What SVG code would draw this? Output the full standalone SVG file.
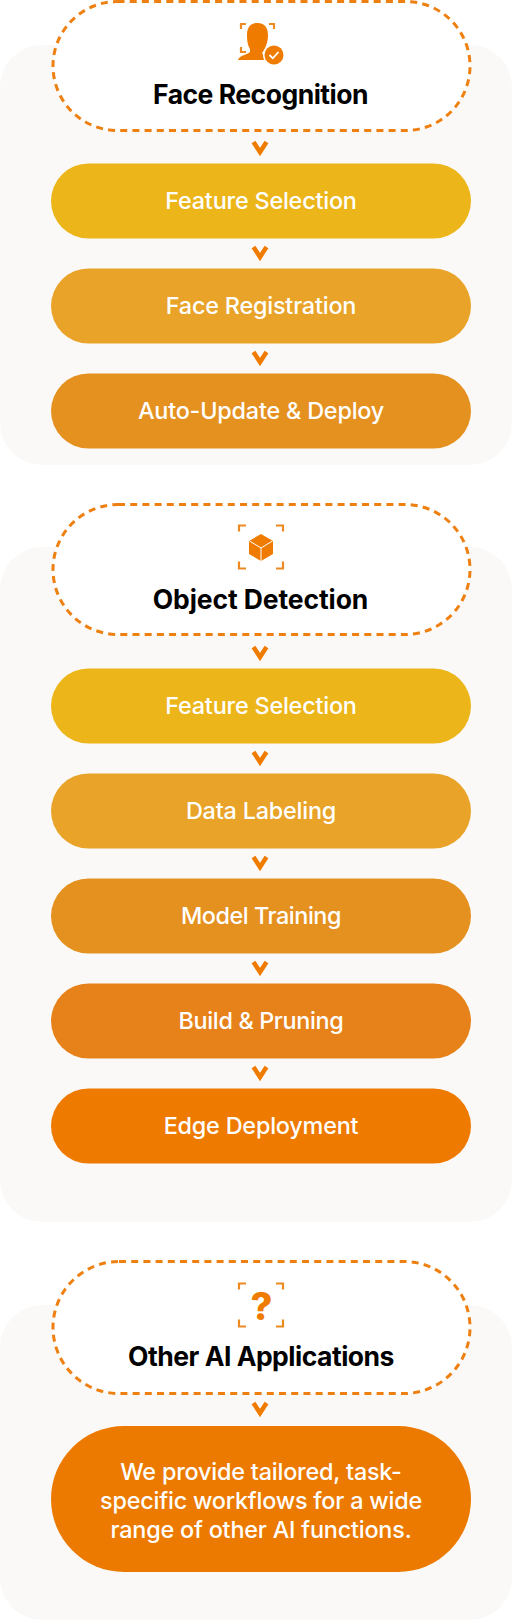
<svg xmlns="http://www.w3.org/2000/svg" width="512" height="1620" viewBox="0 0 512 1620">
<style>
.panel{fill:#fbf9f7}
.dash{fill:#fff;stroke:#ee8012;stroke-width:3;stroke-dasharray:7 5.2}
.t{font-family:Inter,"Noto Sans",sans-serif;text-anchor:middle}
.h{font-size:26.5px;font-weight:700;fill:#000;letter-spacing:-.5px}
.l{font-size:23.4px;font-weight:500;fill:#fff;letter-spacing:-.2px}
.c{fill:none;stroke:#ef7b00;stroke-width:4.5;stroke-linejoin:miter}
.b{fill:none;stroke:#ee8a22;stroke-width:2.2}
.i{fill:#ef7b00}
</style>
<defs>
<path id="chev" class="c" d="M-6.500 0L0 10L6.500 0"/>
<path id="brk" class="b" d="M239 531.500V525.500H246M276 525.500H283V531.500M239 561.500V568.500H246M276 568.500H283V561.500"/>
</defs>
<rect class="panel" x="0" y="45" width="512" height="420" rx="42"/>
<rect class="panel" x="0" y="547" width="512" height="675" rx="42"/>
<rect class="panel" x="0" y="1305" width="512" height="315" rx="42"/>
<g id="connectors">
<use href="#chev" x="260" y="142"/><use href="#chev" x="260" y="247"/><use href="#chev" x="260" y="352"/>
<use href="#chev" x="260" y="647"/><use href="#chev" x="260" y="752"/><use href="#chev" x="260" y="857"/><use href="#chev" x="260" y="962"/><use href="#chev" x="260" y="1067"/>
<use href="#chev" x="260" y="1403"/>
</g>
<g id="face-recognition">
<rect class="dash" x="53" y="1.500" width="417" height="129" rx="64.500"/>
<path class="b" d="M241 29V24H246M269 24H274V29M241 47V52H246"/>
<path class="i" d="M257.500 23C250 23 247 28 247 35C247 42 248 46 250 49V52C247 55 240 55 238 60H265C265 58 264 56 262 53C265 49 268 43 268 35C268 28 265 23 257.500 23Z"/>
<circle cx="274" cy="55" r="11" fill="#fff"/><circle class="i" cx="274" cy="55" r="9.500"/>
<path d="M269.500 55L272.800 58.300L278.500 52" fill="none" stroke="#fff" stroke-width="1.800"/>
<text class="t h" x="260.500" y="104">Face Recognition</text>
</g>
<g id="feature-selection-1"><rect x="51" y="163.500" width="420" height="75" rx="37.500" fill="#ecb51a"/><text class="t l" x="261" y="209">Feature Selection</text></g>
<g id="face-registration"><rect x="51" y="268.500" width="420" height="75" rx="37.500" fill="#e8a328"/><text class="t l" x="261" y="314">Face Registration</text></g>
<g id="auto-update"><rect x="51" y="373.500" width="420" height="75" rx="37.500" fill="#e59120"/><text class="t l" x="261" y="419">Auto-Update &amp; Deploy</text></g>
<g id="object-detection">
<rect class="dash" x="53" y="504.500" width="417" height="130" rx="65"/>
<use href="#brk"/>
<path class="i" d="M261 534L273 541V554L261 561L249 554V541Z"/>
<path d="M249.500 541L261 548L272.500 541M261 548V561" fill="none" stroke="#fff" stroke-width="1"/>
<text class="t h" x="260.500" y="609" style="letter-spacing:-.1px">Object Detection</text>
</g>
<g id="feature-selection-2"><rect x="51" y="668.500" width="420" height="75" rx="37.500" fill="#ecb51a"/><text class="t l" x="261" y="714">Feature Selection</text></g>
<g id="data-labeling"><rect x="51" y="773.500" width="420" height="75" rx="37.500" fill="#e8a328"/><text class="t l" x="261" y="819">Data Labeling</text></g>
<g id="model-training"><rect x="51" y="878.500" width="420" height="75" rx="37.500" fill="#e59120"/><text class="t l" x="261" y="924" style="letter-spacing:-.45px">Model Training</text></g>
<g id="build-pruning"><rect x="51" y="983.500" width="420" height="75" rx="37.500" fill="#e7821a"/><text class="t l" x="261" y="1029" style="letter-spacing:-.35px">Build &amp; Pruning</text></g>
<g id="edge-deployment"><rect x="51" y="1088.500" width="420" height="75" rx="37.500" fill="#ee7a00"/><text class="t l" x="261" y="1134">Edge Deployment</text></g>
<g id="other-ai">
<rect class="dash" x="53" y="1261.500" width="417" height="132" rx="66"/>
<use href="#brk" y="758"/>
<text class="t" x="261.500" y="1320" font-size="38" font-weight="800" fill="#ef7b00">?</text>
<text class="t h" x="261" y="1366">Other AI Applications</text>
</g>
<g id="other-desc"><rect x="51" y="1426" width="420" height="146" rx="73" fill="#ec7a00"/>
<text class="t l" x="261" y="1479.500">We provide tailored, task-</text>
<text class="t l" x="261" y="1508.500">specific workflows for a wide</text>
<text class="t l" x="261" y="1537.500">range of other AI functions.</text></g>
</svg>
